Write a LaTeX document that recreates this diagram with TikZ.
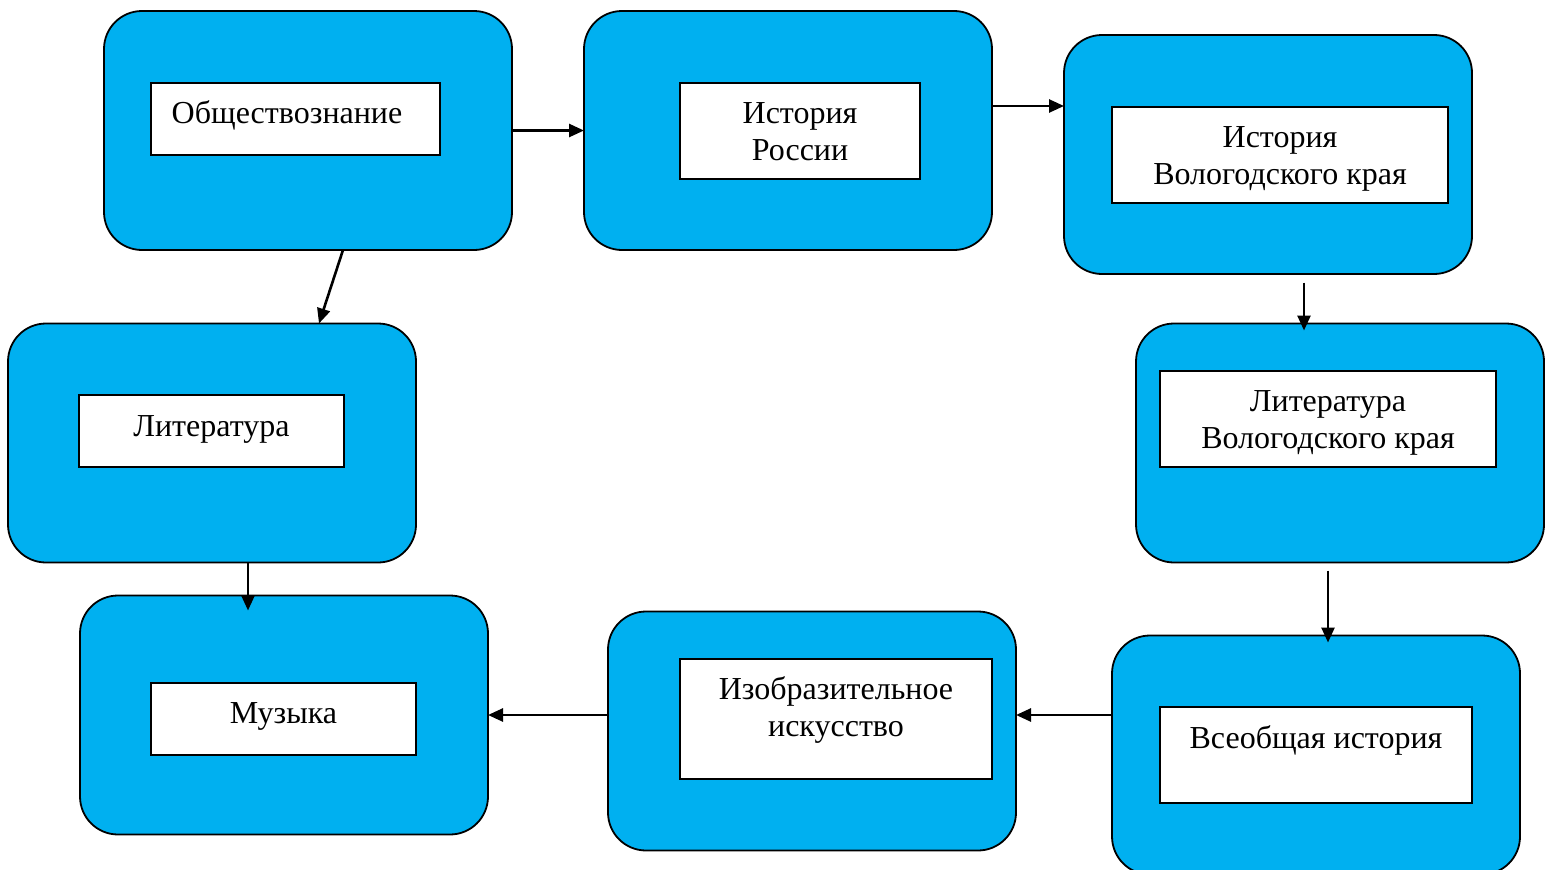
\documentclass[tikz,border=0pt]{standalone}
\usepackage{fontspec}
\setmainfont{Liberation Serif}
\usetikzlibrary{arrows.meta}
\definecolor{boxblue}{HTML}{00B0F0}
\begin{document}
\begin{tikzpicture}[x=1pt,y=-1pt,
  outer/.style={draw=black,line width=1.8pt,fill=boxblue,rounded corners=38pt,
    minimum width=408pt,minimum height=239pt,inner sep=0pt,outer sep=0pt},
  inner/.style={draw=black,line width=1.5pt,fill=white,inner sep=0pt,outer sep=0pt},
  lbl/.style={anchor=base,inner sep=0pt,font=\fontsize{32}{37}\selectfont},
  arr/.style={line width=2.6pt,-{Triangle[length=15pt,width=13pt]}}]
\useasboundingbox (0,0) rectangle (1550,870);
\fill[white] (0,0) rectangle (1550,870);
% outer boxes
\node[outer] (b1) at (308,130.5) {};
\node[outer] (b2) at (788,130.5) {};
\node[outer] (b3) at (1268,154.5) {};
\node[outer] (b4) at (212,443) {};
\node[outer] (b5) at (1340,443) {};
\node[outer] (b6) at (284,715) {};
\node[outer] (b7) at (812,731) {};
\node[outer] (b8) at (1316,755) {};
% inner boxes
\node[inner,minimum width=289pt,minimum height=72pt] (i1) at (295.5,119) {};
\node[inner,minimum width=240pt,minimum height=96pt] (i2) at (800,131) {};
\node[inner,minimum width=336pt,minimum height=96pt] (i3) at (1280,155) {};
\node[inner,minimum width=265pt,minimum height=72pt] (i4) at (211.5,431) {};
\node[inner,minimum width=336pt,minimum height=96pt] (i5) at (1328,419) {};
\node[inner,minimum width=265pt,minimum height=72pt] (i6) at (283.5,719) {};
\node[inner,minimum width=312pt,minimum height=120pt] (i7) at (836,719) {};
\node[inner,minimum width=312pt,minimum height=96pt] (i8) at (1316,755) {};
% labels
\node[lbl] (t1) at (287,123.5) {Обществознание};
\node[lbl] (t2a) at (800,123.5) {История};
\node[lbl] (t2b) at (800,160.5) {России};
\node[lbl] (t3a) at (1280,147.5) {История};
\node[lbl] (t3b) at (1280,184.5) {Вологодского края};
\node[lbl] (t4) at (211.5,436.5) {Литература};
\node[lbl] (t5a) at (1328,411.5) {Литература};
\node[lbl] (t5b) at (1328,448.5) {Вологодского края};
\node[lbl] (t6) at (283.5,723.5) {Музыка};
\node[lbl] (t7a) at (836,699.5) {Изобразительное};
\node[lbl] (t7b) at (836,736.5) {искусство};
\node[lbl] (t8) at (1316,748.5) {Всеобщая история};
% connectors
\draw[arr] (b1.east) -- (b2.west);
\draw[arr] ([yshift=24.5pt]b2.east) -- ([yshift=48.5pt]b3.west);
\draw[arr] ([xshift=35pt]b1.south) -- ([xshift=107pt]b4.north);
\draw[arr] ([xshift=36pt,yshift=-8.5pt]b3.south) -- ([xshift=-36pt,yshift=-7pt]b5.north);
\draw[arr] ([xshift=36pt]b4.south) -- ([xshift=-36pt,yshift=-15pt]b6.north);
\draw[arr] ([xshift=-12pt,yshift=-8pt]b5.south) -- ([xshift=12pt,yshift=-7pt]b8.north);
\draw[arr] ([yshift=40pt]b8.west) -- ([yshift=16pt]b7.east);
\draw[arr] ([yshift=16pt]b7.west) -- (b6.east);
\end{tikzpicture}
\end{document}
